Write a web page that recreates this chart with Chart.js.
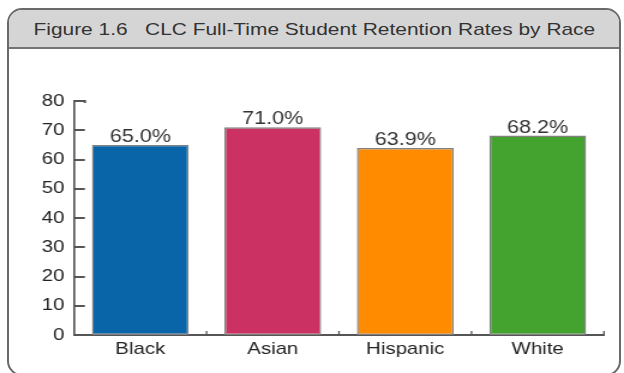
<!DOCTYPE html>
<html>
<head>
<meta charset="utf-8">
<script src="https://cdn.jsdelivr.net/npm/chart.js@4/dist/chart.umd.min.js"></script>
<style>
  html, body { margin: 0; padding: 0; background: #fff; }
  #wrap { position: relative; width: 624px; height: 373px; overflow: hidden; }
  #frame {
    position: absolute; left: 7px; top: 8px; width: 610px; height: 364px;
    border: 2px solid #6a6a6a; border-radius: 15px; overflow: hidden; background: #fff;
  }
  #head {
    height: 37px; background: #d5d5d5; border-bottom: 2px solid #747474;
    font-family: "Liberation Sans", Arial, sans-serif; font-size: 17px; color: #333;
    text-align: center; line-height: 40px; white-space: pre;
  }
  #head span { display: inline-block; transform: scaleX(1.23); }
  #chart { position: absolute; left: 0; top: 0; }
</style>
</head>
<body>
<div id="wrap">
  <div id="frame"><div id="head"><span>Figure 1.6   CLC Full-Time Student Retention Rates by Race</span></div></div>
  <!-- the original figure is stretched sideways, so the canvas is drawn narrow and scaled up -->
  <canvas id="chart" width="520" height="373" style="width:624px;height:373px"></canvas>
</div>
<script>
// data
const categories = ['Black', 'Asian', 'Hispanic', 'White'];
const rates = [65.0, 71.0, 63.9, 68.2];
const barColors = ['#0a64a8', '#cb3263', '#ff8c00', '#43a32e'];
const yTicks = [0, 10, 20, 30, 40, 50, 60, 70, 80];

const axisColor = '#555';

// value labels above each bar
const valueLabels = {
    id: 'valueLabels',
    afterDatasetsDraw(chart) {
        const ctx = chart.ctx;
        const meta = chart.getDatasetMeta(0);
        ctx.save();
        ctx.font = '18px "Liberation Sans", Arial, sans-serif';
        ctx.fillStyle = '#333';
        ctx.textAlign = 'center';
        ctx.textBaseline = 'alphabetic';
        meta.data.forEach((bar, i) => {
            ctx.fillText(rates[i].toFixed(1) + '%', bar.x, bar.y - 3);
        });
        ctx.restore();
    }
};

// inward tick marks on both axes
const innerTicks = {
    id: 'innerTicks',
    afterDraw(chart) {
        const ctx = chart.ctx;
        const y = chart.scales.y;
        const x = chart.scales.x;
        const area = chart.chartArea;
        ctx.save();
        ctx.strokeStyle = axisColor;
        ctx.lineWidth = 2;
        yTicks.forEach(v => {
            if (v === 0) return;
            const py = Math.round(y.getPixelForValue(v));
            ctx.beginPath();
            ctx.moveTo(area.left, py);
            ctx.lineTo(area.left + 9, py);
            if (v === 80) ctx.lineTo(area.left + 9, py + 2);
            ctx.stroke();
        });
        ctx.lineWidth = 1.3;
        for (let i = 0; i < categories.length; i++) {
            const px = i < categories.length - 1
                ? (x.getPixelForValue(i) + x.getPixelForValue(i + 1)) / 2
                : area.right;
            ctx.beginPath();
            ctx.moveTo(px, area.bottom);
            ctx.lineTo(px, area.bottom - 4);
            ctx.stroke();
        }
        ctx.restore();
    }
};

new Chart(document.getElementById('chart'), {
    type: 'bar',
    data: {
        labels: categories,
        datasets: [{
            data: rates,
            backgroundColor: barColors,
            borderColor: '#808080',
            borderWidth: 1.4,
            borderSkipped: false,
            categoryPercentage: 1,
            barPercentage: 0.73
        }]
    },
    options: {
        responsive: false,
        devicePixelRatio: 1,
        animation: false,
        layout: { padding: { left: 0, top: 101, right: 16.7, bottom: 0 } },
        scales: {
            x: {
                grid: { display: false, drawTicks: false },
                border: { display: true, color: axisColor, width: 2 },
                ticks: {
                    color: '#222',
                    padding: 4,
                    font: { family: '"Liberation Sans", Arial, sans-serif', size: 17 }
                },
                afterFit: s => { s.height = 38; }
            },
            y: {
                min: 0,
                max: 80,
                grid: { display: false, drawTicks: false },
                border: { display: true, color: axisColor, width: 1.7 },
                ticks: {
                    stepSize: 10,
                    color: '#222',
                    padding: 8,
                    font: { family: '"Liberation Sans", Arial, sans-serif', size: 17 }
                },
                afterFit: s => { s.width = 61.7; }
            }
        },
        plugins: {
            legend: { display: false },
            tooltip: { enabled: false }
        }
    },
    plugins: [valueLabels, innerTicks]
});
</script>
</body>
</html>
